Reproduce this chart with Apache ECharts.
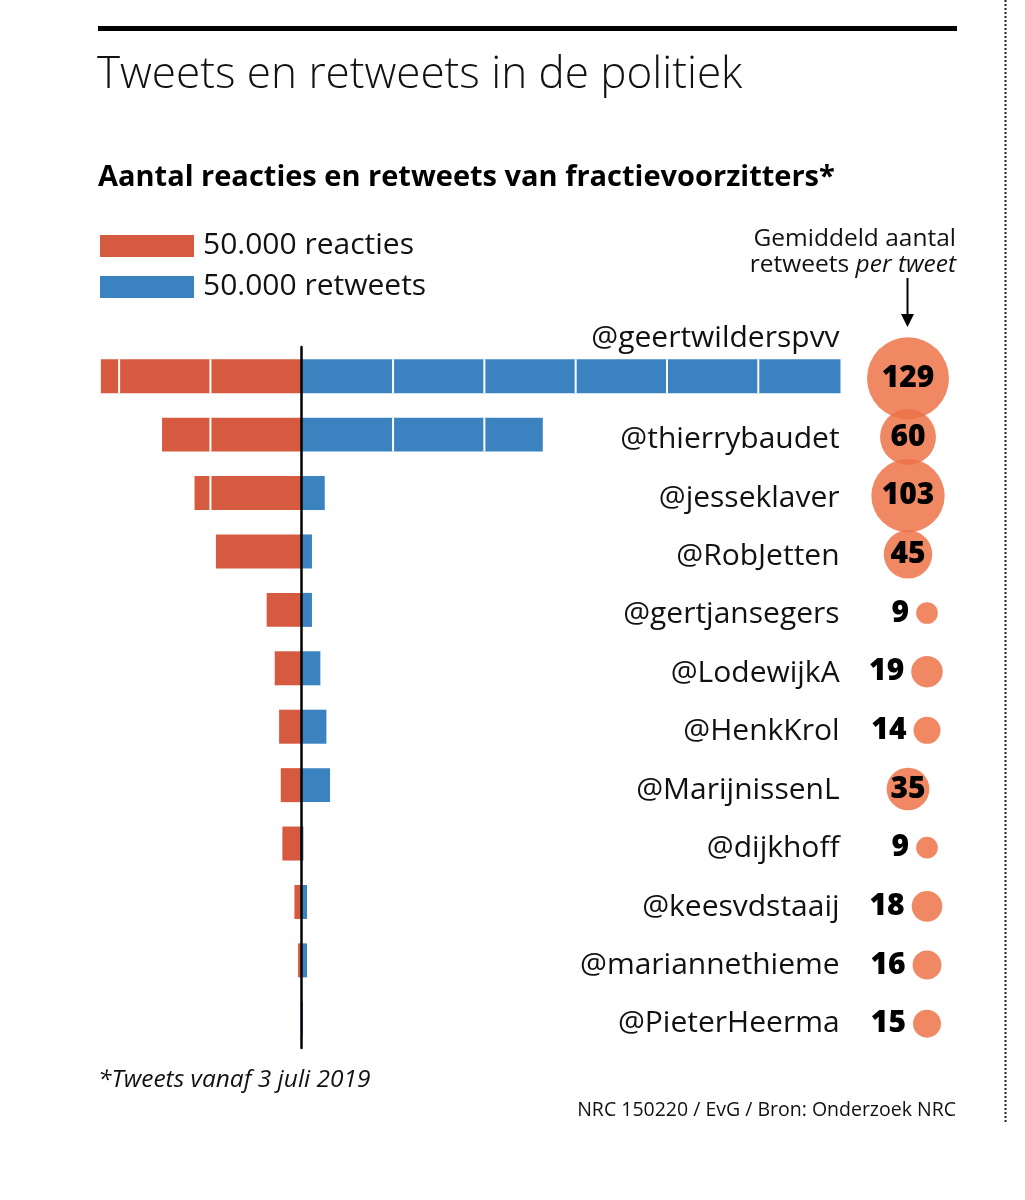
<!DOCTYPE html>
<html>
<head>
<meta charset="utf-8">
<script src="https://cdn.jsdelivr.net/npm/echarts@6/dist/echarts.min.js"></script>
<style>
html,body{margin:0;padding:0;background:#fff;}
#chart{width:1025px;height:1200px;}
</style>
</head>
<body>
<div id="chart"></div>
<script>
// ---- data ----
const names = ['@geertwilderspvv','@thierrybaudet','@jesseklaver','@RobJetten','@gertjansegers','@LodewijkA','@HenkKrol','@MarijnissenL','@dijkhoff','@keesvdstaaij','@mariannethieme','@PieterHeerma'];
const reacties = [110000, 76500, 58700, 47000, 19200, 14800, 12400, 11500, 10600, 4000, 2000, 400];
const retweets = [295000, 132000, 12600, 5600, 5600, 10200, 13500, 15500, 900, 2900, 2900, 600];
const gemiddeld = [129, 60, 103, 45, 9, 19, 14, 35, 9, 18, 16, 15];
const segment = 50000;

const RED = '#D65A40', BLUE = '#3B82C0';
const FONT = '"Open Sans", "DejaVu Sans", sans-serif';

const chart = echarts.init(document.getElementById('chart'), null, {renderer: 'canvas'});

const barData = names.map((n, i) => [reacties[i], retweets[i], n]);
const bubbleData = names.map((n, i) => ({
  value: [0, n, gemiddeld[i]],
  symbolOffset: gemiddeld[i] < 30 ? [19, 0] : [0, 0],
  label: gemiddeld[i] < 30 ? {position: 'left', distance: 7} : {position: 'inside'}
}));

function renderBar(params, api) {
  const idx = api.value(2);
  const reac = api.value(0), ret = api.value(1);
  const c0 = api.coord([0, idx]);
  const yC = c0[1], x0 = c0[0];
  const h = api.size([0, 1])[1] * 0.582;
  const xl = api.coord([-reac, idx])[0];
  const xr = api.coord([ret, idx])[0];
  const y = yC - h / 2;
  const children = [
    {type: 'rect', shape: {x: xl, y: y, width: x0 - xl, height: h}, style: {fill: RED}},
    {type: 'rect', shape: {x: x0, y: y, width: xr - x0, height: h}, style: {fill: BLUE}}
  ];
  for (let k = 1; k * segment < reac; k++) {
    const xs = api.coord([-k * segment, idx])[0];
    children.push({type: 'line', shape: {x1: xs, y1: y, x2: xs, y2: y + h}, style: {stroke: '#fff', lineWidth: 2}});
  }
  for (let k = 1; k * segment < ret; k++) {
    const xs = api.coord([k * segment, idx])[0];
    children.push({type: 'line', shape: {x1: xs, y1: y, x2: xs, y2: y + h}, style: {stroke: '#fff', lineWidth: 2}});
  }
  const xRight = params.coordSys.x + params.coordSys.width - 10;
  const above = xr > 560;
  children.push({
    type: 'text',
    style: {
      text: names[idx],
      x: xRight, y: above ? yC - 38 : yC + 5,
      align: 'right', verticalAlign: 'middle',
      font: '400 30px ' + FONT, fill: '#111'
    }
  });
  return {type: 'group', children: children};
}

const option = {
  animation: false,
  grid: [
    {left: 82.6, width: 767, top: 347, height: 701},
    {left: 828, width: 160, top: 349, height: 704}
  ],
  xAxis: [
    {type: 'value', gridIndex: 0, min: -120000, max: 300000, show: false},
    {type: 'value', gridIndex: 1, min: -1, max: 1, show: false}
  ],
  yAxis: [
    {type: 'category', gridIndex: 0, data: names, inverse: true, z: 10,
     axisLine: {show: true, onZero: true, lineStyle: {color: '#000', width: 2.5}},
     axisTick: {show: false}, axisLabel: {show: false}, splitLine: {show: false}},
    {type: 'category', gridIndex: 1, data: names, inverse: true, show: false}
  ],
  series: [
    {type: 'custom', xAxisIndex: 0, yAxisIndex: 0, renderItem: renderBar,
     encode: {x: [0, 1], y: 2}, data: barData},
    {type: 'scatter', xAxisIndex: 1, yAxisIndex: 1, data: bubbleData,
     symbolSize: v => 7.22 * Math.sqrt(v[2]),
     itemStyle: {color: 'rgba(236,115,72,0.85)', opacity: 1},
     label: {show: true, formatter: p => p.value[2], color: '#000',
             fontFamily: FONT, fontWeight: 800, fontSize: 30}}
  ],
  graphic: [
    {type: 'rect', shape: {x: 98, y: 26, width: 859, height: 5}, style: {fill: '#000'}},
    {type: 'text', style: {text: 'Tweets en retweets in de politiek', x: 97, y: 75,
      verticalAlign: 'middle', font: '300 44px ' + FONT, fill: '#111'}},
    {type: 'text', style: {text: 'Aantal reacties en retweets van fractievoorzitters*', x: 98, y: 178,
      verticalAlign: 'middle', font: 'bold 29px ' + FONT, fill: '#000'}},
    {type: 'rect', shape: {x: 100, y: 235, width: 94, height: 22}, style: {fill: RED}},
    {type: 'rect', shape: {x: 100, y: 276, width: 94, height: 22}, style: {fill: BLUE}},
    {type: 'text', style: {text: '50.000 reacties', x: 203, y: 245, verticalAlign: 'middle',
      font: '400 30px ' + FONT, fill: '#111'}},
    {type: 'text', style: {text: '50.000 retweets', x: 203, y: 286, verticalAlign: 'middle',
      font: '400 30px ' + FONT, fill: '#111'}},
    {type: 'text', style: {text: 'Gemiddeld aantal', x: 956, y: 239, align: 'right', verticalAlign: 'middle',
      font: '400 24.5px ' + FONT, fill: '#111'}},
    {type: 'text', style: {text: '{a|retweets }{b|per tweet}', x: 956, y: 265, align: 'right', verticalAlign: 'middle',
      rich: {a: {font: '400 24.5px ' + FONT, fill: '#111'}, b: {font: 'italic 400 24.5px ' + FONT, fill: '#111'}}}},
    {type: 'line', shape: {x1: 907.5, y1: 278, x2: 907.5, y2: 318}, style: {stroke: '#000', lineWidth: 2}},
    {type: 'polygon', shape: {points: [[901, 314], [914, 314], [907.5, 327]]}, style: {fill: '#000'}},
    {type: 'text', style: {text: '*Tweets vanaf 3 juli 2019', x: 98, y: 1080, verticalAlign: 'middle',
      font: 'italic 400 24.5px ' + FONT, fill: '#111'}},
    {type: 'text', style: {text: 'NRC 150220 / EvG / Bron: Onderzoek NRC', x: 956, y: 1110, align: 'right', verticalAlign: 'middle',
      font: '400 19.5px ' + FONT, fill: '#111'}},
    {type: 'line', shape: {x1: 1005.5, y1: 0, x2: 1005.5, y2: 1122}, style: {stroke: '#222', lineWidth: 2, lineDash: [2, 2]}}
  ]
};
chart.setOption(option);
</script>
</body>
</html>
